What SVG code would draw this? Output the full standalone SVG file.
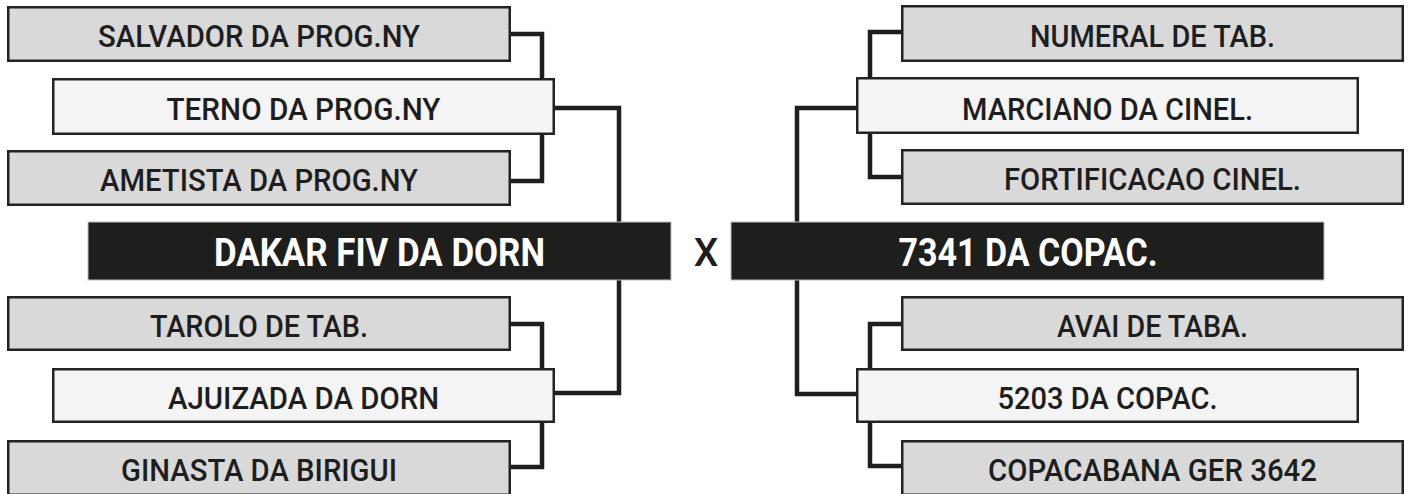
<svg xmlns="http://www.w3.org/2000/svg" width="1410" height="494" viewBox="0 0 1410 494">
<style>
.grey{fill:#d9d9d9;stroke:#232323;stroke-width:2.5}
.light{fill:#f4f4f4;stroke:#232323;stroke-width:2.5}
.dark{fill:#1e1e1c;stroke:#bdbdbd;stroke-width:1}
.t{font-family:Roboto,"Liberation Sans",sans-serif;font-size:32px;font-weight:500;fill:#1e1e1e;text-anchor:middle}
.tb{font-family:Roboto,"Liberation Sans",sans-serif;font-size:39px;font-weight:bold;fill:#ffffff;text-anchor:middle}
.x{font-family:Roboto,"Liberation Sans",sans-serif;font-size:39px;font-weight:500;fill:#1e1e1e;text-anchor:middle}
.c{fill:none;stroke:#1e1e1e;stroke-width:4.5;stroke-linejoin:miter;stroke-linecap:butt}
</style>
<rect width="1410" height="494" fill="#ffffff"/>
<g id="connectors">
<path class="c" d="M508,34 H542 V80"/>
<path class="c" d="M508,181 H542 V133"/>
<path class="c" d="M552,108 H619 V224"/>
<path class="c" d="M508,324 H542 V370"/>
<path class="c" d="M508,467 H542 V421"/>
<path class="c" d="M552,393 H619 V278"/>
<path class="c" d="M904,32 H870 V79"/>
<path class="c" d="M904,177 H870 V132"/>
<path class="c" d="M859,108 H797 V224"/>
<path class="c" d="M904,324 H870 V370"/>
<path class="c" d="M904,466 H870 V421"/>
<path class="c" d="M859,394 H797 V278"/>
</g>
<g id="salvador"><rect class="grey" x="8.25" y="7.25" width="501.5" height="53.5"/><text class="t" x="259" y="47" textLength="322" lengthAdjust="spacingAndGlyphs">SALVADOR DA PROG.NY</text></g>
<g id="terno"><rect class="light" x="53.25" y="79.25" width="500.5" height="54.5"/><text class="t" x="303.5" y="120" textLength="274" lengthAdjust="spacingAndGlyphs">TERNO DA PROG.NY</text></g>
<g id="ametista"><rect class="grey" x="8.25" y="151.25" width="501.5" height="53.5"/><text class="t" x="259" y="191" textLength="318" lengthAdjust="spacingAndGlyphs">AMETISTA DA PROG.NY</text></g>
<g id="dakar"><rect class="dark" x="88" y="222" width="583" height="58"/><text class="tb" x="379.5" y="266" textLength="331" lengthAdjust="spacingAndGlyphs">DAKAR FIV DA DORN</text></g>
<g id="tarolo"><rect class="grey" x="8.25" y="297.25" width="501.5" height="52.5"/><text class="t" x="259" y="337" textLength="218" lengthAdjust="spacingAndGlyphs">TAROLO DE TAB.</text></g>
<g id="ajuizada"><rect class="light" x="53.25" y="369.25" width="500.5" height="52.5"/><text class="t" x="303.5" y="409" textLength="271" lengthAdjust="spacingAndGlyphs">AJUIZADA DA DORN</text></g>
<g id="ginasta"><rect class="grey" x="8.25" y="441.25" width="501.5" height="53.5"/><text class="t" x="259" y="481" textLength="276" lengthAdjust="spacingAndGlyphs">GINASTA DA BIRIGUI</text></g>
<g id="versus"><text class="x" x="706" y="266">X</text></g>
<g id="numeral"><rect class="grey" x="902.25" y="6.25" width="500.5" height="54.5"/><text class="t" x="1152.5" y="47" textLength="245" lengthAdjust="spacingAndGlyphs">NUMERAL DE TAB.</text></g>
<g id="marciano"><rect class="light" x="857.25" y="78.25" width="500.5" height="54.5"/><text class="t" x="1107.5" y="120" textLength="291" lengthAdjust="spacingAndGlyphs">MARCIANO DA CINEL.</text></g>
<g id="fortificacao"><rect class="grey" x="902.25" y="150.25" width="500.5" height="53.5"/><text class="t" x="1152.5" y="190" textLength="297" lengthAdjust="spacingAndGlyphs">FORTIFICACAO CINEL.</text></g>
<g id="copac7341"><rect class="dark" x="731" y="222" width="593" height="58"/><text class="tb" x="1028" y="266" textLength="259" lengthAdjust="spacingAndGlyphs">7341 DA COPAC.</text></g>
<g id="avai"><rect class="grey" x="902.25" y="297.25" width="500.5" height="52.5"/><text class="t" x="1152.5" y="337" textLength="191" lengthAdjust="spacingAndGlyphs">AVAI DE TABA.</text></g>
<g id="copac5203"><rect class="light" x="857.25" y="369.25" width="500.5" height="52.5"/><text class="t" x="1107.5" y="409" textLength="220" lengthAdjust="spacingAndGlyphs">5203 DA COPAC.</text></g>
<g id="copacabana"><rect class="grey" x="902.25" y="441.25" width="500.5" height="53.5"/><text class="t" x="1152.5" y="481" textLength="329" lengthAdjust="spacingAndGlyphs">COPACABANA GER 3642</text></g>
</svg>
